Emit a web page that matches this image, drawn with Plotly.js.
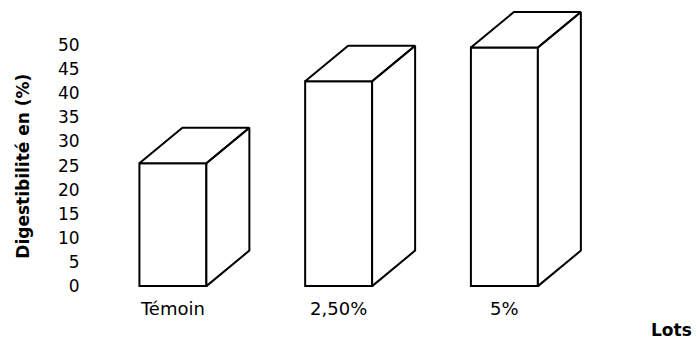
<!DOCTYPE html>
<html>
<head>
<meta charset="utf-8">
<script src="https://cdn.plot.ly/plotly-3.0.1.min.js"></script>
<style>html,body{margin:0;padding:0;background:#fff;}#chart{width:696px;height:345px;}</style>
</head>
<body>
<div id="chart"></div>
<script>
// Data
const categories = ['Témoin', '2,50%', '5%'];
const values = [25.5, 42.5, 49.5];
const yTickVals = [0, 5, 10, 15, 20, 25, 30, 35, 40, 45, 50];
const yTitle = 'Digestibilité en (%)';
const xTitle = 'Lots';

// Style / geometry (not data)
const barWidth = 0.404;
const depthX = 0.2594;   // in x units
const depthY = 7.37;     // in y units
const lineW = 2;

const xPos = categories.map((c, i) => i);

// Build 3D faces (top and right side) from the data values
const fx = [], fy = [];
xPos.forEach((x, i) => {
  const v = values[i];
  const l = x - barWidth / 2, r = x + barWidth / 2;
  // top face
  fx.push(l, r, r + depthX, l + depthX, l, null);
  fy.push(v, v, v + depthY, v + depthY, v, null);
  // right side face
  fx.push(r, r + depthX, r + depthX, r, r, null);
  fy.push(v, v + depthY, depthY, 0, v, null);
});

const front = {
  type: 'bar',
  x: xPos,
  y: values,
  width: barWidth,
  marker: {color: '#ffffff', line: {color: '#000000', width: lineW}},
  hoverinfo: 'skip',
  showlegend: false
};

const faces = {
  type: 'scatter',
  mode: 'lines',
  x: fx,
  y: fy,
  fill: 'toself',
  fillcolor: '#ffffff',
  line: {color: '#000000', width: lineW, simplify: false},
  connectgaps: false,
  hoverinfo: 'skip',
  showlegend: false
};

const W = 696, H = 345;
const m = {l: 88, r: 96, t: 8, b: 56};
const pw = W - m.l - m.r, ph = H - m.t - m.b;

const layout = {
  width: W, height: H,
  margin: m,
  paper_bgcolor: '#ffffff',
  plot_bgcolor: '#ffffff',
  showlegend: false,
  font: {family: 'DejaVu Sans, Arial, sans-serif', color: '#000000', size: 16},
  xaxis: {
    range: [-0.5122, 2.5768],
    tickvals: xPos,
    ticktext: categories,
    showgrid: false, zeroline: false, showline: false,
    ticks: 'outside', ticklen: 3, tickcolor: 'rgba(0,0,0,0)',
    tickfont: {family: 'DejaVu Sans, Arial, sans-serif', size: 18, color: '#000'},
    fixedrange: true
  },
  yaxis: {
    range: [-0.6, 57.7],
    tickvals: yTickVals,
    ticktext: yTickVals.map(String),
    showgrid: false, zeroline: false, showline: false,
    ticks: 'outside', ticklen: 4, tickcolor: 'rgba(0,0,0,0)',
    tickfont: {family: 'DejaVu Sans, Arial, sans-serif', size: 17, color: '#000'},
    fixedrange: true
  },
  annotations: [
    {
      text: yTitle, textangle: -90,
      xref: 'paper', yref: 'paper',
      x: (23 - m.l) / pw, y: (H - m.b - 166.7) / ph,
      xanchor: 'center', yanchor: 'middle', showarrow: false,
      font: {family: 'DejaVu Sans, Arial, sans-serif', size: 17, color: '#000', weight: 'bold'}
    },
    {
      text: '<b>' + xTitle + '</b>',
      xref: 'paper', yref: 'paper',
      x: (671 - m.l) / pw, y: (H - m.b - 330) / ph,
      xanchor: 'center', yanchor: 'middle', showarrow: false,
      font: {family: 'DejaVu Sans, Arial, sans-serif', size: 17, color: '#000'}
    }
  ]
};

Plotly.newPlot('chart', [front, faces], layout, {staticPlot: true, displayModeBar: false});
</script>
</body>
</html>
